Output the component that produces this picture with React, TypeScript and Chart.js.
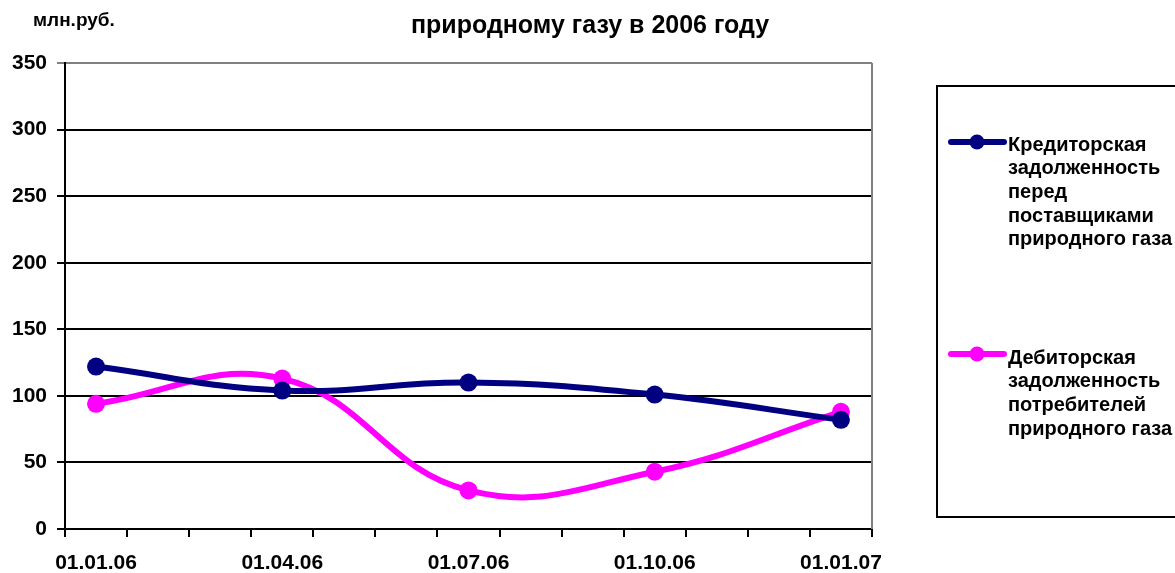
import React, { useEffect, useRef } from "react";
import { Chart, registerables } from "chart.js";

Chart.register(...registerables);

const monthLabels = [
  "01.01.06", "01.02.06", "01.03.06", "01.04.06", "01.05.06", "01.06.06", "01.07.06",
  "01.08.06", "01.09.06", "01.10.06", "01.11.06", "01.12.06", "01.01.07",
];
const quarterDates = ["01.01.06", "01.04.06", "01.07.06", "01.10.06", "01.01.07"];
const creditorValues = [122, 104, 110, 101, 82];
const debtorValues = [94, 113, 29, 43, 88];

const titleText = "природному газу в 2006 году";
const unitText = "млн.руб.";
const creditorLabel = ["Кредиторская", "задолженность", "перед", "поставщиками", "природного газа"];
const debtorLabel = ["Дебиторская", "задолженность", "потребителей", "природного газа"];

const NAVY = "#000080";
const PINK = "#FF00FF";
const FONT = "'Liberation Sans', Arial, sans-serif";

function toMonthly(values: number[]) {
  return monthLabels.map((m) => {
    const i = quarterDates.indexOf(m);
    return i >= 0 ? values[i] : null;
  });
}

const decorPlugin = {
  id: "decor",
  beforeDatasetsDraw(chart: any) {
    const { ctx, chartArea } = chart;
    ctx.save();
    ctx.strokeStyle = "#808080";
    ctx.lineWidth = 2;
    ctx.beginPath();
    ctx.moveTo(chartArea.right, chartArea.top);
    ctx.lineTo(chartArea.right, chartArea.bottom);
    ctx.stroke();
    ctx.restore();
  },
  afterDraw(chart: any) {
    const { ctx } = chart;
    ctx.save();
    ctx.fillStyle = "#000";
    ctx.textBaseline = "alphabetic";
    ctx.font = `bold 25px ${FONT}`;
    ctx.textAlign = "center";
    ctx.fillText(titleText, 590, 33);
    ctx.font = `bold 19px ${FONT}`;
    ctx.textAlign = "left";
    ctx.fillText(unitText, 33, 26);

    // legend box
    ctx.strokeStyle = "#000";
    ctx.lineWidth = 2;
    ctx.strokeRect(937, 86, 260, 431);

    const items = [
      { color: NAVY, lines: creditorLabel, y: 145, ly: 142 },
      { color: PINK, lines: debtorLabel, y: 358, ly: 354 },
    ];
    ctx.font = `bold 20px ${FONT}`;
    ctx.textBaseline = "middle";
    for (const it of items) {
      ctx.strokeStyle = it.color;
      ctx.lineWidth = 6;
      ctx.lineCap = "round";
      ctx.beginPath();
      ctx.moveTo(951, it.ly);
      ctx.lineTo(1004, it.ly);
      ctx.stroke();
      ctx.fillStyle = it.color;
      ctx.beginPath();
      ctx.arc(977, it.ly, 7.5, 0, Math.PI * 2);
      ctx.fill();
      ctx.fillStyle = "#000";
      it.lines.forEach((t, i) => ctx.fillText(t, 1008, it.y + i * 23.7));
    }
    ctx.restore();
  },
};

export default function App() {
  const ref = useRef<HTMLCanvasElement>(null);
  useEffect(() => {
    if (!ref.current) return;
    const mk = (label: string, values: number[], color: string) => ({
      label,
      data: toMonthly(values),
      borderColor: color,
      backgroundColor: color,
      borderWidth: 6,
      pointRadius: 9,
      pointBackgroundColor: color,
      pointBorderWidth: 0,
      tension: 0.42,
      spanGaps: true,
    });
    const chart = new Chart(ref.current, {
      type: "line",
      data: {
        labels: monthLabels,
        datasets: [
          mk(creditorLabel.join(" "), creditorValues, NAVY),
          mk(debtorLabel.join(" "), debtorValues, PINK),
        ],
      },
      options: {
        animation: false,
        responsive: false,
        maintainAspectRatio: false,
        layout: { padding: { top: 63, right: 303, left: 0, bottom: 0 } },
        plugins: { legend: { display: false }, title: { display: false }, tooltip: { enabled: false } },
        scales: {
          x: {
            type: "category",
            offset: true,
            afterFit: (s: any) => { s.height = 44; },
            grid: {
              offset: true,
              drawOnChartArea: false,
              drawTicks: true,
              tickLength: 8,
              color: "#000",
              lineWidth: 2,
            },
            border: { display: true, color: "#000", width: 2 },
            ticks: {
              autoSkip: false,
              maxRotation: 0,
              padding: 14,
              color: "#000",
              font: { family: FONT, size: 21, weight: "bold" },
              callback: (_v: any, i: number) => (i % 3 === 0 ? monthLabels[i] : ""),
            },
          },
          y: {
            min: 0,
            max: 350,
            afterFit: (s: any) => { s.width = 65; },
            grid: {
              color: (c: any) => (c.tick && c.tick.value === 350 ? "#808080" : "#000"),
              lineWidth: 2,
              drawTicks: true,
              tickLength: 8,
            },
            border: { display: true, color: "#000", width: 2 },
            ticks: {
              stepSize: 50,
              padding: 10,
              color: "#000",
              font: { family: FONT, size: 21, weight: "bold" },
            },
          },
        },
      },
      plugins: [decorPlugin],
    } as any);
    return () => chart.destroy();
  }, []);
  return (
    <div style={{ position: "fixed", left: 0, top: 0, width: 1175, height: 573, background: "#fff" }}>
      <canvas ref={ref} width={1175} height={573} style={{ width: 1175, height: 573 }} />
    </div>
  );
}
